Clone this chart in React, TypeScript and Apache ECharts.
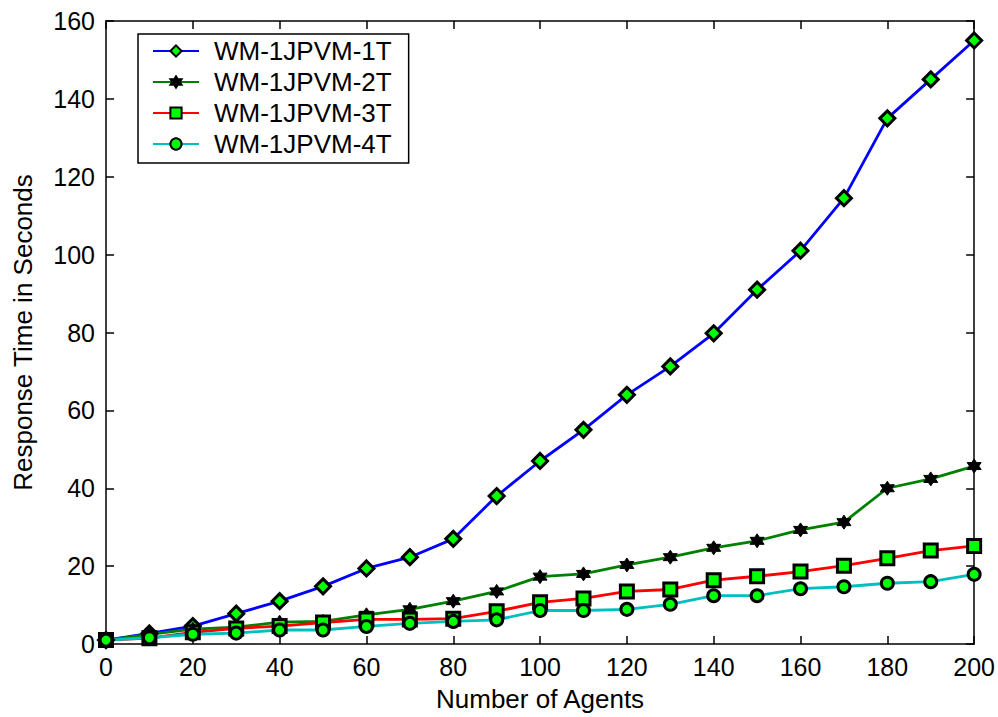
import React, { useEffect, useRef } from "react";
import * as echarts from "echarts";

const agents = [0, 10, 20, 30, 40, 50, 60, 70, 80, 90, 100, 110, 120, 130, 140, 150, 160, 170, 180, 190, 200];
const seriesNames = ["WM-1JPVM-1T", "WM-1JPVM-2T", "WM-1JPVM-3T", "WM-1JPVM-4T"];
const t1 = [1, 2.7, 4.6, 7.8, 11, 14.8, 19.4, 22.3, 27, 38, 47, 55, 64, 71.3, 79.8, 91, 101, 114.5, 135, 145, 155];
const t2 = [1, 2.5, 3.8, 4.3, 5.6, 5.8, 7.5, 8.9, 11, 13.5, 17.3, 18, 20.3, 22.3, 24.7, 26.5, 29.3, 31.3, 40, 42.4, 45.7];
const t3 = [1, 1.5, 3, 4, 4.6, 5.5, 6.3, 6.3, 6.5, 8.4, 10.7, 11.7, 13.5, 14, 16.4, 17.4, 18.6, 20.1, 22, 24, 25.2];
const t4 = [1, 1.6, 2.5, 2.8, 3.6, 3.6, 4.5, 5.3, 5.8, 6.2, 8.6, 8.6, 8.9, 10.2, 12.4, 12.4, 14.2, 14.7, 15.6, 16, 17.9];

const FONT = "'Liberation Sans', Arial, sans-serif";
const HEX = "path://M0,-10L2.887,-5L8.66,-5L5.774,0L8.66,5L2.887,5L0,10L-2.887,5L-8.66,5L-5.774,0L-8.66,-5L-2.887,-5Z";

export default function App() {
  const ref = useRef<HTMLDivElement>(null);
  useEffect(() => {
    if (!ref.current) return;
    const chart = echarts.init(ref.current, null, { renderer: "svg" });
    const pair = (arr: number[]) => agents.map((a, i) => [a, arr[i]]);
    const baseAxisLabel = { color: "#000", fontSize: 25, fontFamily: FONT };
    const lineColors = ["#0000ff", "#008000", "#ff0000", "#00bfbf"];
    const symbols = ["diamond", HEX, "rect", "circle"];
    const sizes = [15, 14, 13, 12];
    const datas = [t1, t2, t3, t4];
    const axisLine = { show: true, onZero: false, lineStyle: { color: "#000", width: 1.5 } };
    const axisTick = { show: true, inside: true, length: 8, lineStyle: { color: "#000", width: 1.5 } };
    chart.setOption({
      animation: false,
      backgroundColor: "#fff",
      grid: { left: 106, top: 21, right: 22, bottom: 66, show: false },
      legend: {
        orient: "vertical",
        left: 138,
        top: 34,
        padding: [4, 17, 6, 14],
        itemGap: 5,
        itemWidth: 46,
        itemHeight: 14,
        backgroundColor: "#fff",
        borderColor: "#000",
        borderWidth: 1.5,
        borderRadius: 0,
        textStyle: { color: "#000", fontSize: 26, fontFamily: FONT, padding: [0, 0, 0, 10] },
        data: seriesNames,
      },
      xAxis: [
        {
          type: "value", min: 0, max: 200, interval: 20, position: "bottom",
          name: "Number of Agents", nameLocation: "middle", nameGap: 42,
          nameTextStyle: { color: "#000", fontSize: 26, fontFamily: FONT },
          axisLine, axisTick,
          axisLabel: { ...baseAxisLabel, margin: 10 },
          splitLine: { show: false },
        },
        {
          type: "value", min: 0, max: 200, interval: 20, position: "top",
          axisLine, axisTick,
          axisLabel: { show: false },
          splitLine: { show: false },
        },
      ],
      yAxis: [
        {
          type: "value", min: 0, max: 160, interval: 20, position: "left",
          name: "Response Time in Seconds", nameLocation: "middle", nameGap: 70,
          nameTextStyle: { color: "#000", fontSize: 26, fontFamily: FONT },
          axisLine, axisTick,
          axisLabel: { ...baseAxisLabel, margin: 11 },
          splitLine: { show: false },
        },
        {
          type: "value", min: 0, max: 160, interval: 20, position: "right",
          axisLine, axisTick,
          axisLabel: { show: false },
          splitLine: { show: false },
        },
      ],
      series: seriesNames.map((n, k) => ({
        name: n,
        type: "line",
        xAxisIndex: 0,
        yAxisIndex: 0,
        data: pair(datas[k]),
        symbol: symbols[k],
        symbolSize: sizes[k],
        showAllSymbol: true,
        lineStyle: { color: lineColors[k], width: 2.8 },
        itemStyle: k === 1
          ? { color: "#000", borderColor: "#000", borderWidth: 1 }
          : { color: "#00ff00", borderColor: "#000", borderWidth: 3 },
        color: lineColors[k],
        emphasis: { disabled: true },
      })),
    });
    return () => chart.dispose();
  }, []);
  return <div ref={ref} style={{ position: "absolute", left: 0, top: 0, width: 998, height: 717 }} />;
}
